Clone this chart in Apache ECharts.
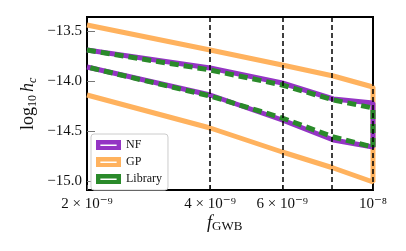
<!DOCTYPE html>
<html><head><meta charset="utf-8">
<script src="https://cdn.jsdelivr.net/npm/echarts@6/dist/echarts.min.js"></script>
<style>html,body{margin:0;padding:0;background:#fff}#c{width:406px;height:251px}</style>
</head><body><div id="c"></div>
<script>
// frequencies (Hz)
const freqs = [2e-9, 4e-9, 6e-9, 8e-9, 1e-8];
const vlineFreqs = [4e-9, 6e-9, 8e-9, 1e-8];
const xTickFreqs = [2e-9, 4e-9, 6e-9, 1e-8];
const xTickLabels = ['2 × 10⁻⁹', '4 × 10⁻⁹', '6 × 10⁻⁹', '10⁻⁸'];
const yTicks = [-15.0, -14.5, -14.0, -13.5];
// band edges (log10 hc)
const gpUpper  = [-13.44, -13.69, -13.84, -13.95, -14.06];
const gpLower  = [-14.14, -14.47, -14.71, -14.87, -15.01];
const nfUpper  = [-13.69, -13.87, -14.02, -14.18, -14.22];
const nfLower  = [-13.86, -14.14, -14.39, -14.59, -14.66];
const libUpper = [-13.69, -13.89, -14.04, -14.19, -14.27];
const libLower = [-13.86, -14.15, -14.37, -14.56, -14.66];

const L = f => Math.log10(f);
function band(up, lo) {
  const pts = [];
  for (let i = 0; i < freqs.length; i++) pts.push([L(freqs[i]), up[i]]);
  for (let i = freqs.length - 1; i >= 0; i--) pts.push([L(freqs[i]), lo[i]]);
  return pts;
}
const serif = '"Liberation Serif","DejaVu Serif",serif';
const icon = 'path://M0,0 H40 V16 H0 Z M7,7 V9.5 H33 V7 Z';
const C_NF = '#9434c4', C_GP = '#ffb25e', C_LIB = '#2a8a2a';

const chart = echarts.init(document.getElementById('c'), null, {renderer: 'canvas'});
chart.setOption({
  animation: false,
  grid: {left: 87, right: 33, top: 17, bottom: 61, show: true, borderColor: '#000', borderWidth: 2, backgroundColor: 'transparent'},
  xAxis: {
    type: 'value', min: L(2e-9), max: L(1e-8),
    splitLine: {show: false},
    axisLine: {show: false},
    axisTick: {show: true, inside: true, length: 5, lineStyle: {color: '#555'}, customValues: xTickFreqs.map(L)},
    axisLabel: {
      customValues: xTickFreqs.map(L), margin: 7,
      fontFamily: serif, fontSize: 15, color: '#111',
      formatter: v => {
        let best = 0, bd = 1e9;
        xTickFreqs.forEach((f, i) => { const d = Math.abs(L(f) - v); if (d < bd) { bd = d; best = i; } });
        return xTickLabels[best];
      }
    }
  },
  yAxis: {
    type: 'value', min: -15.09, max: -13.36,
    splitLine: {show: false},
    axisLine: {show: false},
    axisTick: {show: true, inside: true, length: 8, lineStyle: {color: '#777'}, customValues: yTicks},
    axisLabel: {
      customValues: yTicks, margin: 5,
      fontFamily: serif, fontSize: 15, color: '#111',
      formatter: v => (v < 0 ? '−' : '') + Math.abs(v).toFixed(1)
    }
  },
  legend: {
    left: 91, top: 134, orient: 'vertical', itemGap: 5,
    itemWidth: 25, itemHeight: 10, padding: [5, 6, 5, 5],
    backgroundColor: '#fff', borderColor: '#ccc', borderWidth: 1, borderRadius: 3,
    textStyle: {fontFamily: serif, fontSize: 12, color: '#111'},
    data: [
      {name: 'NF', icon: icon, itemStyle: {color: C_NF}},
      {name: 'GP', icon: icon, itemStyle: {color: C_GP}},
      {name: 'Library', icon: icon, itemStyle: {color: C_LIB}}
    ]
  },
  series: [
    {name: 'GP', type: 'line', data: band(gpUpper, gpLower), showSymbol: false, symbol: 'none',
     lineStyle: {color: C_GP, width: 5}, itemStyle: {color: C_GP}, z: 2},
    {name: 'NF', type: 'line', data: band(nfUpper, nfLower), showSymbol: false, symbol: 'none',
     lineStyle: {color: C_NF, width: 5}, itemStyle: {color: C_NF}, z: 3},
    {name: 'Library', type: 'line', data: band(libUpper, libLower), showSymbol: false, symbol: 'none',
     lineStyle: {color: C_LIB, width: 5, type: [9, 5]}, itemStyle: {color: C_LIB}, z: 4},
    {name: 'vlines', type: 'line', data: [], z: 5,
     markLine: {silent: true, symbol: 'none', label: {show: false},
       lineStyle: {color: '#000', width: 1.5, type: [5, 3]},
       data: vlineFreqs.map(f => ({xAxis: L(f)}))}}
  ],
  graphic: [
    {type: 'text', left: 207, top: 214, z: 10, style: {
      text: '{f|f}{s|GWB}', rich: {
        f: {fontFamily: serif, fontSize: 18, fontStyle: 'italic', fill: '#111'},
        s: {fontFamily: serif, fontSize: 13, fill: '#111', padding: [8, 0, 0, 0]}
      }}},
    {type: 'text', x: 18, y: 130, rotation: Math.PI / 2, z: 10, style: {
      text: '{m|log}{s|10}{h|h}{c|c}', rich: {
        m: {fontFamily: serif, fontSize: 18, fill: '#111'},
        h: {fontFamily: serif, fontSize: 18, fontStyle: 'italic', fill: '#111', padding: [0, 0, 0, 3]},
        s: {fontFamily: serif, fontSize: 12, fill: '#111', fontStyle: 'normal', padding: [9, 0, 0, 0]},
        c: {fontFamily: serif, fontSize: 12, fill: '#111', fontStyle: 'italic', padding: [9, 0, 0, 0]}
      }}}
  ]
});
</script></body></html>
